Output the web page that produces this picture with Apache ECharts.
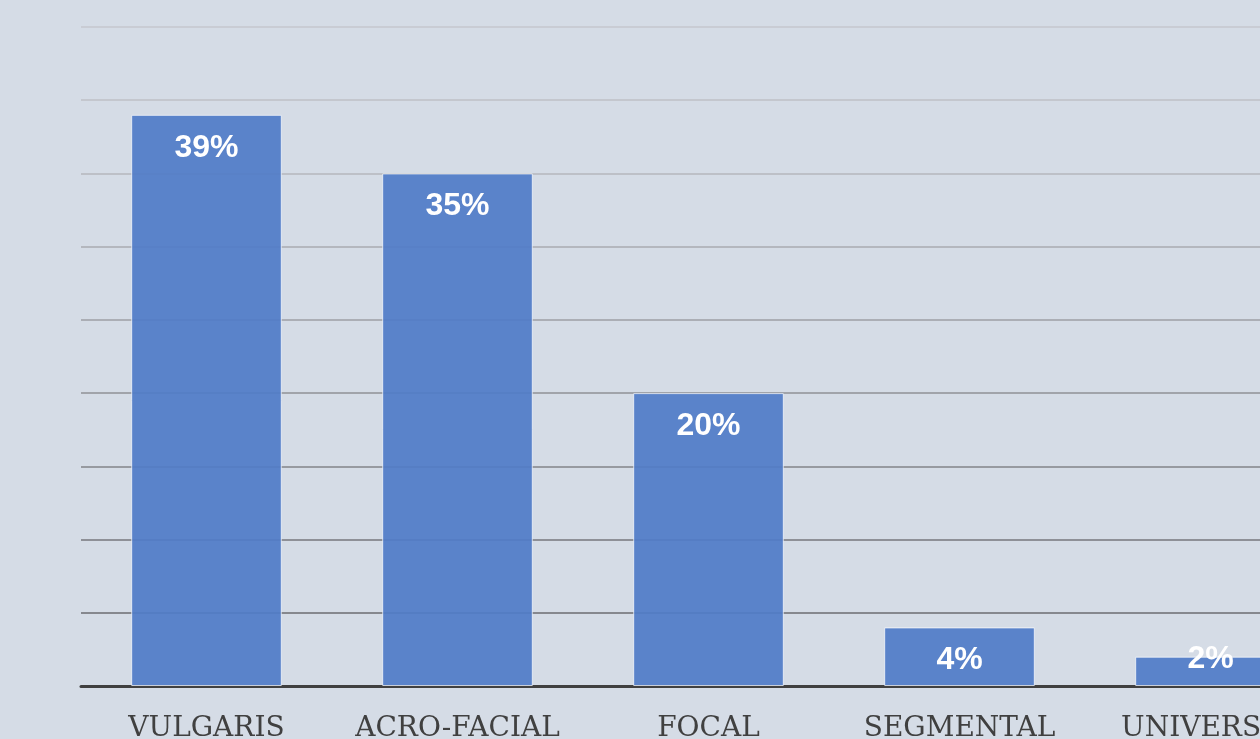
<!DOCTYPE html>
<html>
<head>
<meta charset="utf-8">
<script src="https://cdn.jsdelivr.net/npm/echarts@6/dist/echarts.min.js"></script>
<style>
  html, body { margin: 0; padding: 0; background: #d5dce6; }
  #chart { width: 1260px; height: 739px; }
</style>
</head>
<body>
<div id="chart"></div>
<script>
// Share of cases by clinical type (%)
const categories = ['VULGARIS', 'ACRO-FACIAL', 'FOCAL', 'SEGMENTAL', 'UNIVERSAL'];
const shares = [39, 35, 20, 4, 2];

// Value axis: 0–45 in steps of 5
const axisMin = 0;
const axisMax = 45;
const axisStep = 5;

// Grid lines shade from dark near the base to light at the top
const gridLineColors = ['#7d8087', '#86888e', '#8e9097', '#979aa0', '#a1a4aa',
                        '#abaeb5', '#b4b7be', '#bdc0c7', '#c4c7ce', '#c9ccd4'];

const chart = echarts.init(document.getElementById('chart'));

const barData = shares.map(function (v, i) {
  const item = { value: v };
  if (i === shares.length - 1) {
    // short bar: label sits across its top edge
    item.label = { position: 'top', distance: -18 };
  }
  return item;
});

chart.setOption({
  backgroundColor: '#d5dce6',
  animation: false,
  grid: {
    left: 81, top: 27, width: 1255, height: 659,
    containLabel: false,
    outerBoundsMode: 'none'
  },
  xAxis: {
    type: 'category',
    data: categories,
    axisLine: { show: true, lineStyle: { color: '#404040', width: 3 } },
    axisTick: { show: false },
    axisLabel: {
      interval: 0,
      color: '#404040',
      fontFamily: 'DejaVu Serif',
      fontSize: 28,
      margin: 29
    }
  },
  yAxis: {
    type: 'value',
    min: axisMin,
    max: axisMax,
    interval: axisStep,
    axisLine: { show: false },
    axisTick: { show: false },
    axisLabel: { show: false },
    splitLine: { show: true, lineStyle: { color: gridLineColors, width: 2 } }
  },
  series: [{
    type: 'bar',
    data: barData,
    barCategoryGap: '40%',
    itemStyle: {
      color: 'rgba(81,124,199,0.93)',
      borderColor: 'rgba(255,255,255,0.7)',
      borderWidth: 1
    },
    label: {
      show: true,
      position: 'insideTop',
      distance: 17,
      color: '#ffffff',
      fontFamily: 'Liberation Sans',
      fontWeight: 'bold',
      fontSize: 32,
      formatter: function (p) { return p.value + '%'; }
    }
  }]
});
</script>
</body>
</html>
